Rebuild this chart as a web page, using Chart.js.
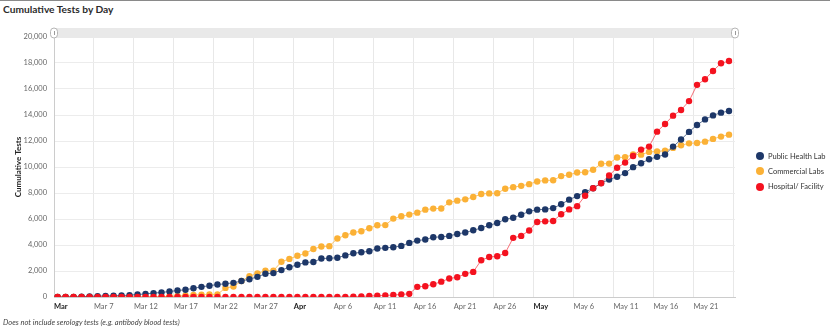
<!DOCTYPE html>
<html>
<head>
<meta charset="utf-8">
<title>Cumulative Tests by Day</title>
<script src="https://cdn.jsdelivr.net/npm/chart.js@4.4.1/dist/chart.umd.min.js"></script>
<style>
  html, body { margin: 0; padding: 0; background: #fff; }
  #wrap { position: relative; width: 830px; height: 330px; overflow: hidden; font-family: Lato, "Open Sans", sans-serif; }
  #topline { position: absolute; left: 0; top: 0; width: 830px; height: 1px; background: #8a8a8a; }
  #title { position: absolute; left: 3px; top: 3px; font-size: 10.2px; font-weight: bold; color: #2b2b2b; white-space: nowrap; }
  #chart { position: absolute; left: 0; top: 0; }
  #legend { position: absolute; left: 756px; top: 148.5px; font-size: 7.5px; color: #333; }
  #legend .row { display: flex; align-items: center; height: 15.3px; white-space: nowrap; }
  #legend .dot { width: 8px; height: 8px; border-radius: 50%; margin-right: 4px; }
  #note { position: absolute; left: 3px; top: 318px; font-size: 7.5px; font-style: italic; color: #444; white-space: nowrap; }
</style>
</head>
<body>
<div id="wrap">
  <div id="topline"></div>
  <div id="title">Cumulative Tests by Day</div>
  <canvas id="chart" width="830" height="330"></canvas>
  <div id="legend"></div>
  <div id="note">Does not include serology tests (e.g. antibody blood tests)</div>
</div>
<script>
// Daily cumulative test counts, one value per day starting Mar 2.
const firstDay = '2020-03-02';

const publicHealthLab = [
  0, 0, 10, 20, 50, 70, 80, 100, 110, 140,
  190, 240, 300, 350, 420, 500, 560, 670, 780, 870,
  960, 1020, 1090, 1230, 1370, 1550, 1790, 1840, 2070, 2290,
  2480, 2660, 2690, 2960, 2980, 3020, 3200, 3360, 3440, 3520,
  3730, 3780, 3830, 3930, 4160, 4340, 4420, 4600, 4620, 4700,
  4850, 4960, 5130, 5310, 5520, 5690, 5980, 6100, 6330, 6590,
  6720, 6740, 6840, 7130, 7490, 7760, 8070, 8370, 8760, 9040,
  9250, 9530, 9990, 10290, 10600, 10780, 10960, 11570, 12110, 12700,
  13230, 13660, 13970, 14180, 14310
];

const commercialLabs = [
  0, 0, 0, 0, 0, 0, 0, 0, 0, 0,
  0, 0, 10, 10, 60, 80, 110, 160, 180, 190,
  200, 700, 800, 1230, 1600, 1820, 2020, 2030, 2710, 2930,
  3170, 3350, 3690, 3880, 3910, 4500, 4750, 4960, 5060, 5290,
  5520, 5530, 6030, 6210, 6340, 6490, 6720, 6800, 6810, 7280,
  7410, 7510, 7690, 7920, 7970, 7980, 8330, 8450, 8550, 8680,
  8890, 8970, 8980, 9300, 9400, 9580, 9600, 9790, 10250, 10260,
  10730, 10750, 10960, 10950, 11160, 11190, 11260, 11470, 11670, 11820,
  11850, 11950, 12160, 12340, 12490
];

const hospitalFacility = [
  0, 0, 0, 0, 0, 0, 0, 0, 0, 0,
  0, 0, 0, 0, 0, 0, 0, 0, 0, 0,
  0, 0, 0, 0, 0, 0, 0, 0, 0, 0,
  0, 0, 0, 0, 0, 0, 10, 20, 40, 80,
  100, 120, 150, 200, 240, 780, 830, 980, 1180, 1420,
  1520, 1780, 1930, 2830, 3080, 3130, 3380, 4550, 4700, 5120,
  5770, 5820, 5850, 6360, 6740, 6990, 7790, 8370, 8750, 9350,
  9940, 10340, 10850, 11340, 11570, 12720, 13310, 13950, 14380, 15070,
  16320, 16750, 17390, 17980, 18150
];

// Axis labels: day offsets (from firstDay) and their text.
const tickDays   = [0, 5, 10, 15, 20, 25, 30, 35, 40, 45, 50, 55, 60, 65, 70, 75, 80, 85];
const tickLabels = ['Mar', 'Mar 7', 'Mar 12', 'Mar 17', 'Mar 22', 'Mar 27', 'Apr', 'Apr 6', 'Apr 11',
                    'Apr 16', 'Apr 21', 'Apr 26', 'May', 'May 6', 'May 11', 'May 16', 'May 21', ''];
const yTicks = [0, 2000, 4000, 6000, 8000, 10000, 12000, 14000, 16000, 18000, 20000];

const seriesNames  = ['Public Health Lab', 'Commercial Labs', 'Hospital/ Facility'];
const seriesColors = ['#1d3768', '#fbb136', '#f4121f'];
const lineColors   = ['rgba(29,55,104,0.7)', 'rgba(251,177,54,0.75)', 'rgba(244,18,31,0.6)'];
const seriesData   = [publicHealthLab, commercialLabs, hospitalFacility];

// Day boundaries sit a little before each day's point.
const dayShift = 0.45;
const FONT = 'Lato, "Open Sans", sans-serif';

const fmtDay = (i) => {
  const d = new Date(firstDay + 'T12:00:00');
  d.setDate(d.getDate() + i);
  return d.toLocaleDateString('en-US', { month: 'short', day: 'numeric' });
};

const datasets = seriesData.map((vals, s) => ({
  label: seriesNames[s],
  data: vals.map((v, i) => ({ x: i, y: v })),
  borderColor: lineColors[s],
  backgroundColor: seriesColors[s],
  pointBackgroundColor: seriesColors[s],
  pointBorderColor: seriesColors[s],
  pointBorderWidth: 0,
  pointRadius: 3.2,
  pointHoverRadius: 4.5,
  borderWidth: 1,
  tension: 0,
  order: [1, 2, 0][s]
}));

// Range selector bar above the plot, with its two handles.
const rangeBar = {
  id: 'rangeBar',
  beforeDatasetsDraw(chart) {
    const { ctx, chartArea: a } = chart;
    ctx.save();
    ctx.fillStyle = '#e9e9e9';
    ctx.fillRect(a.left, 28, a.right - a.left, 10);
    [a.left, a.right].forEach((x) => {
      const w = 7, h = 10, r = 3.5, y = 28;
      ctx.beginPath();
      ctx.roundRect(x - w / 2, y, w, h, r);
      ctx.fillStyle = '#ffffff';
      ctx.fill();
      ctx.strokeStyle = '#b5b5b5';
      ctx.lineWidth = 1;
      ctx.stroke();
      ctx.beginPath();
      ctx.moveTo(Math.round(x) + 0.5, y + 3);
      ctx.lineTo(Math.round(x) + 0.5, y + h - 3);
      ctx.strokeStyle = '#9a9a9a';
      ctx.stroke();
    });
    ctx.restore();
  }
};

new Chart(document.getElementById('chart'), {
  type: 'line',
  data: { datasets },
  plugins: [rangeBar],
  options: {
    responsive: false,
    animation: false,
    layout: { padding: { top: 37, right: 95, bottom: 0, left: 0 } },
    plugins: {
      legend: { display: false },
      title: { display: false },
      tooltip: {
        callbacks: { title: (items) => fmtDay(items[0].parsed.x) }
      }
    },
    scales: {
      x: {
        type: 'linear',
        min: -dayShift,
        max: 84.75,
        afterFit: (scale) => { scale.height = 33; },
        afterBuildTicks: (scale) => {
          scale.ticks = tickDays.map((d) => ({ value: d - dayShift }));
        },
        grid: { color: '#e8e8e8', drawTicks: false },
        border: { color: '#cccccc' },
        ticks: {
          autoSkip: false,
          maxRotation: 0,
          align: 'start',
          padding: 5,
          callback: (value, index) => tickLabels[index],
          color: (ctx) => (tickLabels[ctx.index] && !tickLabels[ctx.index].includes(' ')) ? '#222' : '#666',
          font: (ctx) => ({
            family: FONT,
            size: 7.5,
            weight: (tickLabels[ctx.index] && !tickLabels[ctx.index].includes(' ')) ? 'bold' : 'normal'
          })
        }
      },
      y: {
        min: 0,
        max: 20000,
        afterFit: (scale) => { scale.width = 54; },
        afterBuildTicks: (scale) => {
          scale.ticks = yTicks.map((v) => ({ value: v }));
        },
        grid: { color: '#ececec', drawTicks: false },
        border: { color: '#cccccc' },
        ticks: {
          padding: 7,
          color: '#666',
          font: { family: FONT, size: 7.5 },
          callback: (v) => v.toLocaleString('en-US')
        },
        title: {
          display: true,
          text: 'Cumulative Tests',
          color: '#222',
          font: { family: FONT, size: 8, weight: 'bold' },
          padding: { top: 13.5, bottom: 0 }
        }
      }
    }
  }
});

// Legend rows
const legend = document.getElementById('legend');
seriesNames.forEach((name, s) => {
  const row = document.createElement('div');
  row.className = 'row';
  const dot = document.createElement('span');
  dot.className = 'dot';
  dot.style.background = seriesColors[s];
  const txt = document.createElement('span');
  txt.textContent = name;
  row.appendChild(dot);
  row.appendChild(txt);
  legend.appendChild(row);
});
</script>
</body>
</html>
